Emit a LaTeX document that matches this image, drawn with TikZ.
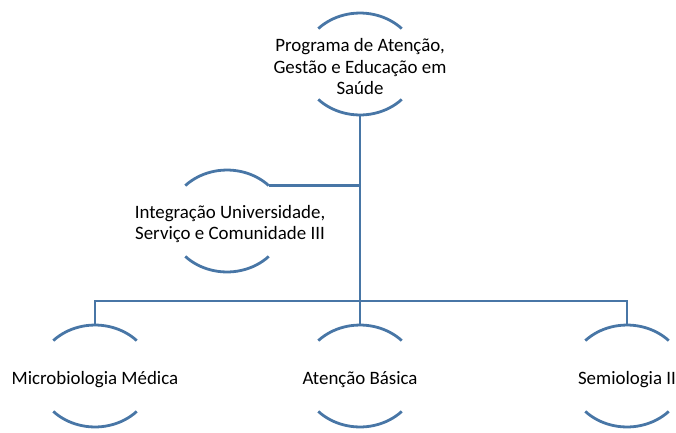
\documentclass[tikz,border=0pt]{standalone}
\usepackage{fontspec}
\setmainfont{Carlito}
\usepackage{tikz}
\usetikzlibrary{shapes.geometric}

\definecolor{arcblue}{RGB}{72,118,166}

\begin{document}
\begin{tikzpicture}[x=1pt, y=-1pt,
    hub/.style={ellipse, minimum width=116pt, minimum height=102pt, inner sep=0pt},
    lbl/.style={align=center, font=\fontsize{18.9}{21.5}\selectfont},
    link/.style={draw=arcblue, line width=2.8pt}]
            \useasboundingbox (0,0) rectangle (676,432);

            % shape centres
            \node[hub] (prog) at (360,64) {};
            \node[hub] (integ) at (227,221) {};
            \node[hub] (micro) at (95,376) {};
            \node[hub] (basica) at (360,376) {};
            \node[hub] (semio) at (627,376) {};
            \coordinate (bar) at (360,301);

            % arcs above and below each text
            \foreach \n in {prog,integ,micro,basica,semio} {
                \draw[link] ([shift={(-41.7pt,35.4pt)}]\n.center) arc[start angle=136, end angle=44, x radius=58pt, y radius=51pt];
                \draw[link] ([shift={(-41.7pt,-35.4pt)}]\n.center) arc[start angle=224, end angle=316, x radius=58pt, y radius=51pt];
            }

            % texts
            \node[lbl] (progText) at ([yshift=-3pt]prog.center) {Programa de Atenção,\\Gestão e Educação em\\Saúde};
            \node[lbl] (integText) at ([xshift=3pt,yshift=-3pt]integ.center) {Integração Universidade,\\Serviço e Comunidade III};
            \node[lbl] (microText) at ([yshift=-4pt]micro.center) {Microbiologia Médica};
            \node[lbl] (basicaText) at ([yshift=-4pt]basica.center) {Atenção Básica};
            \node[lbl] (semioText) at ([yshift=-4pt]semio.center) {Semiologia II};

            % connectors
            \draw[link] (prog.south) -- (basica.north);
            \draw[link] (integ.40) -- (integ.40 -| prog.south);
            \draw[link] (micro.north) |- (bar) -| (semio.north);
\end{tikzpicture}
\end{document}
